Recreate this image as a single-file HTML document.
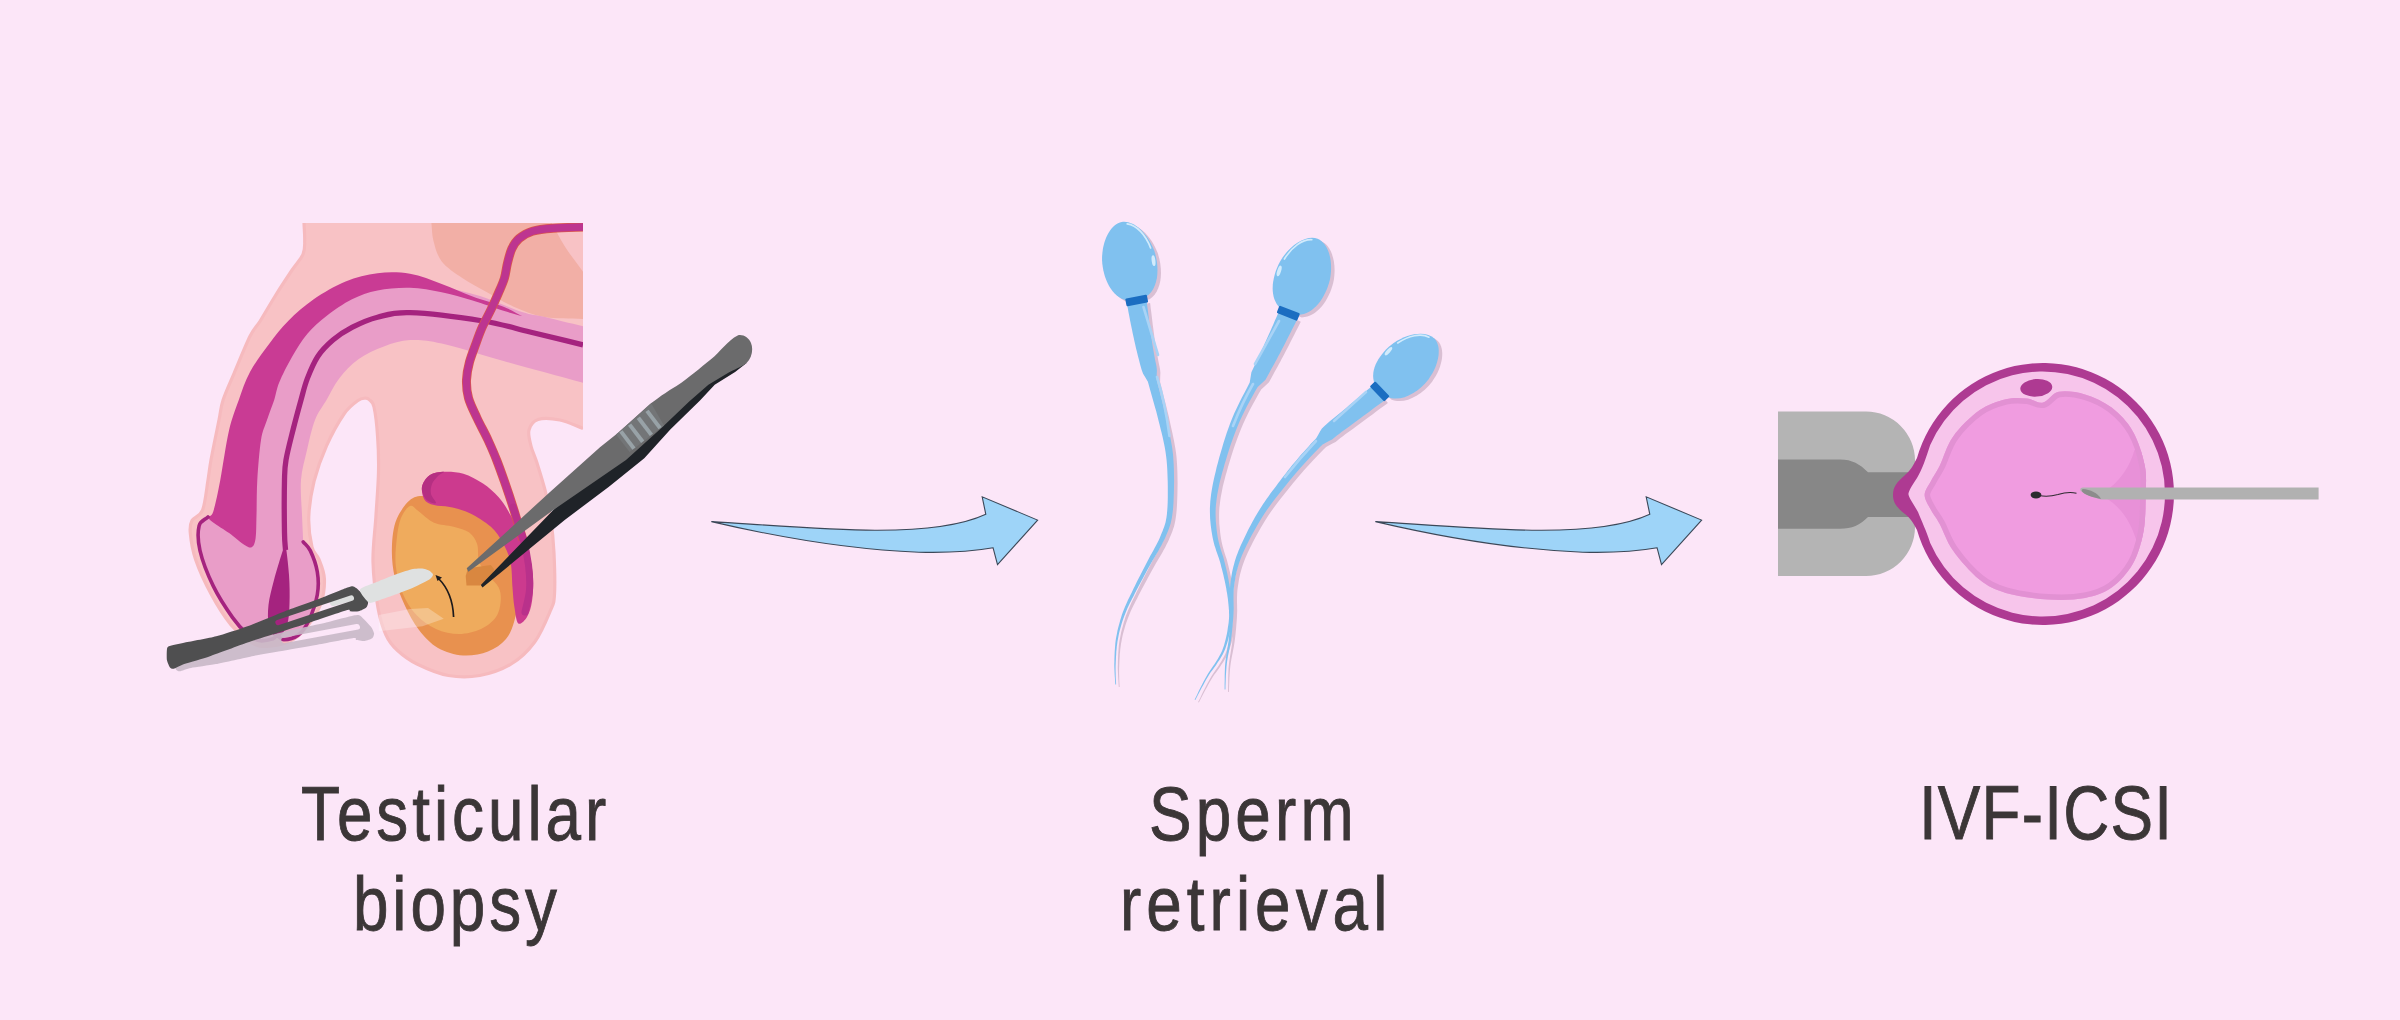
<!DOCTYPE html>
<html><head><meta charset="utf-8">
<style>
html,body{margin:0;padding:0;width:2400px;height:1020px;overflow:hidden;background:#fce6f8;}
svg{display:block;}
text{font-family:"Liberation Sans",sans-serif;fill:#3b3637;}
</style></head>
<body>
<svg width="2400" height="1020" viewBox="0 0 2400 1020">
<rect width="2400" height="1020" fill="#fce6f8"/>

<!-- LEFT ILLUSTRATION -->
<g id="left">
<path d="M304,223 L583,223 L583,428.4 C575.3,425.6 567.5,421.5 560,420 C552.5,418.5 543.2,417.8 538,419.5 C532.8,421.2 530.2,425.6 529,430 C527.8,434.4 529.7,440.5 531,446 C532.3,451.5 534.7,455.7 537,463 C539.3,470.3 542.7,480.9 545,490 C547.3,499.1 549.1,507.1 550.6,517.6 C552.1,528.1 553.4,540.2 554,553 C554.6,565.8 555.1,584.9 554.5,594.5 C553.9,604.1 553.7,602.7 550.4,610.6 C547.1,618.5 541.2,633.1 534.7,642 C528.2,650.9 520.4,658.4 511.2,664 C502,669.6 490.3,673.6 479.8,675.5 C469.3,677.4 458.9,677.4 448.4,675.5 C437.9,673.6 425.6,668.2 417,664 C408.4,659.8 402.2,654.8 397,650 C391.8,645.2 389.2,642 386,635 C382.8,628 380.2,620.2 378,608 C375.8,595.8 373.4,577.2 373,562 C372.6,546.8 375,531.5 375.9,516.5 C376.8,501.6 378.2,485.6 378.5,472.3 C378.8,459.1 378.4,447.9 377.6,437 C376.9,426.1 375.4,413.2 374,407 C372.6,400.8 370.4,401 369,399.5 C367.6,398 367.1,398 365.3,398.2 C363.5,398.4 361.6,397.9 358,400.5 C354.4,403.1 349.2,406.4 344,414 C338.8,421.6 331.5,434.7 326.5,445.9 C321.5,457.1 317.1,469.4 314.1,481.2 C311.2,493 309.2,505.5 308.8,516.5 C308.4,527.5 310.3,539.9 312,547 C313.7,554.1 316.9,554.1 319,559.4 C321.1,564.7 324.1,571.4 324.4,578.8 C324.7,586.1 323.5,595.9 320.9,603.5 C318.2,611.1 312.9,618.8 308.5,624.7 C304.1,630.6 299.4,635.4 294.4,638.8 C289.4,642.2 284.4,643.8 278.5,645 C272.6,646.2 264.3,646.9 259,645.9 C253.7,644.9 251.5,642.3 246.8,638.8 C242.1,635.3 236.8,632.1 230.9,624.7 C225,617.4 217.4,605.6 211.5,594.7 C205.6,583.8 199.1,569.7 195.6,559.4 C192.1,549.1 190.9,539.5 190.3,533 C189.7,526.5 189.9,524.4 192,520.6 C194.1,516.8 199.9,516.8 202.6,510 C205.3,503.2 206.6,488.3 208,480 C209.4,471.7 209.2,470 211,460 C212.8,450 217,430 219,420 C221,410 220.6,407.8 223.1,400 C225.6,392.2 229.6,383.9 234.1,373.3 C238.6,362.7 245.7,345 250,336.3 C254.3,327.6 255.9,327.8 260.2,321 C264.4,314.2 270.2,304 275.5,295.5 C280.8,287 287.5,276.9 292.1,270 C296.7,263.1 301,259.1 303.1,254.1 C305.2,249.1 304.6,245.2 304.7,240 C304.8,234.8 304.2,228.7 304,223 Z" fill="#f8c2c5"/>
<path d="M583,428.4 C575.3,425.6 567.5,421.5 560,420 C552.5,418.5 543.2,417.8 538,419.5 C532.8,421.2 530.2,425.6 529,430 C527.8,434.4 529.7,440.5 531,446 C532.3,451.5 534.7,455.7 537,463 C539.3,470.3 542.7,480.9 545,490 C547.3,499.1 549.1,507.1 550.6,517.6 C552.1,528.1 553.4,540.2 554,553 C554.6,565.8 555.1,584.9 554.5,594.5 C553.9,604.1 553.7,602.7 550.4,610.6 C547.1,618.5 541.2,633.1 534.7,642 C528.2,650.9 520.4,658.4 511.2,664 C502,669.6 490.3,673.6 479.8,675.5 C469.3,677.4 458.9,677.4 448.4,675.5 C437.9,673.6 425.6,668.2 417,664 C408.4,659.8 402.2,654.8 397,650 C391.8,645.2 389.2,642 386,635 C382.8,628 380.2,620.2 378,608 C375.8,595.8 373.4,577.2 373,562 C372.6,546.8 375,531.5 375.9,516.5 C376.8,501.6 378.2,485.6 378.5,472.3 C378.8,459.1 378.4,447.9 377.6,437 C376.9,426.1 375.4,413.2 374,407 C372.6,400.8 370.4,401 369,399.5 C367.6,398 367.1,398 365.3,398.2 C363.5,398.4 361.6,397.9 358,400.5 C354.4,403.1 349.2,406.4 344,414 C338.8,421.6 331.5,434.7 326.5,445.9 C321.5,457.1 317.1,469.4 314.1,481.2 C311.2,493 309.2,505.5 308.8,516.5 C308.4,527.5 310.3,539.9 312,547 C313.7,554.1 316.9,554.1 319,559.4 C321.1,564.7 324.1,571.4 324.4,578.8 C324.7,586.1 323.5,595.9 320.9,603.5 C318.2,611.1 312.9,618.8 308.5,624.7 C304.1,630.6 299.4,635.4 294.4,638.8 C289.4,642.2 284.4,643.8 278.5,645 C272.6,646.2 264.3,646.9 259,645.9 C253.7,644.9 251.5,642.3 246.8,638.8 C242.1,635.3 236.8,632.1 230.9,624.7 C225,617.4 217.4,605.6 211.5,594.7 C205.6,583.8 199.1,569.7 195.6,559.4 C192.1,549.1 190.9,539.5 190.3,533 C189.7,526.5 189.9,524.4 192,520.6 C194.1,516.8 199.9,516.8 202.6,510 C205.3,503.2 206.6,488.3 208,480 C209.4,471.7 209.2,470 211,460 C212.8,450 217,430 219,420 C221,410 220.6,407.8 223.1,400 C225.6,392.2 229.6,383.9 234.1,373.3 C238.6,362.7 245.7,345 250,336.3 C254.3,327.6 255.9,327.8 260.2,321 C264.4,314.2 270.2,304 275.5,295.5 C280.8,287 287.5,276.9 292.1,270 C296.7,263.1 301,259.1 303.1,254.1 C305.2,249.1 304.6,245.2 304.7,240 C304.8,234.8 304.2,228.7 304,223" fill="none" stroke="#f6babe" stroke-width="3.2"/>
<path d="M431.4,223 L583,223 L583,319 C570.2,318.3 556.1,319.1 544.6,317 C533.1,314.9 523.3,310.8 513.7,306.7 C504.1,302.6 495.6,297.1 487,292.3 C478.4,287.5 469.9,283 462.3,277.9 C454.8,272.8 446.5,267.6 441.7,261.4 C436.9,255.2 435.2,247.3 433.5,240.9 C431.8,234.5 432.1,229 431.4,223 Z" fill="#f2afa6"/>
<path d="M551.8,223 L583,223 L583,271.7 C577.1,263.5 570.4,255.1 565.2,247 C560,238.9 556.3,231 551.8,223 Z" fill="#f8c2c5"/>
<path d="M583,326.3 C570.3,323.2 555.2,319.4 545,317 C534.8,314.6 532.8,315.5 522,312 C511.2,308.5 493.4,300.2 480,296 C466.6,291.8 453.4,289.5 441.7,287 C430,284.5 420.7,281.8 410,281 C399.3,280.2 388.2,280.5 377.5,282 C366.8,283.5 356.2,285.7 345.6,290 C335,294.3 323.3,301.3 313.7,308 C304.1,314.7 295.6,322.7 288.2,330 C280.8,337.3 274.6,342.8 269.1,352 C263.6,361.2 259.9,372 255,385 C250.2,398 243.8,414.2 240,430 C236.2,445.8 235,466.7 232,480 C229,493.3 226,503.8 222,510 C218,516.2 212.7,514.7 208,517 C205,520 200.4,520.3 199.1,525.9 C197.8,531.5 197.7,540.6 200,550.6 C202.3,560.6 207.8,574.7 213.2,585.9 C218.6,597.1 227,609.7 232.6,617.6 C238.2,625.5 242.4,629.7 246.8,633.5 C251.2,637.3 254.7,639.7 259.1,640.6 C263.5,641.5 270.2,639.7 273.2,638.8 C276.1,637.9 275,635.1 276.8,635.3 C278.6,635.4 280.3,639.7 283.8,639.7 C287.3,639.7 293.9,638.4 298,635.3 C302.1,632.2 305.3,628 308.5,621.2 C311.7,614.4 315.8,602.9 317.3,594.7 C318.8,586.5 318.5,579.1 317.3,571.8 C316.1,564.4 312.7,555.6 310.3,550.6 C307.9,545.6 305.6,544.7 303.2,541.8 C302.8,532.9 302.4,525.3 302,515 C301.6,504.7 300.2,490.8 301,480 C301.8,469.2 304.7,460 307,450 C309.3,440 311.8,428.3 315,420 C318.2,411.7 322.5,406.9 326.5,400 C330.5,393.1 333.9,385.2 339.2,378.4 C344.5,371.6 350.9,364.5 358.4,359.2 C365.8,353.9 375.3,349.7 383.9,346.5 C392.5,343.3 400.4,340.6 410,340.1 C419.6,339.6 426.1,340 441.7,343.5 C457.3,347 479.9,354.4 503.5,361 C527,367.6 556.5,375.5 583,382.8 L583,326.3 Z" fill="#e99dc8"/>
<path d="M522,316 C515.8,312.9 511.7,310 503.5,306.7 C495.3,303.4 482.9,300.2 472.6,296.4 C462.3,292.6 452.1,287.8 441.7,284 C431.3,280.2 420.7,275.6 410,273.8 C399.3,272 388.2,271.9 377.5,273.2 C366.8,274.5 356.2,277.1 345.6,281.5 C335,285.9 323.3,292.7 313.7,299.3 C304.1,305.9 295.6,313.6 288.2,321 C280.8,328.4 275.5,335.4 269.1,343.9 C262.7,352.4 255.1,362.6 250,372 C244.9,381.4 242.3,390.2 238.8,400 C235.3,409.8 232.1,417.3 229,430.6 C225.9,443.9 222.9,466.5 220.3,480 C217.7,493.5 215.2,505.6 213.2,511.8 C211.1,518 208,515.2 208,517 C208,518.8 209.7,519.7 213.2,522.4 C216.7,525.1 223.8,529.2 229.1,533 C234.4,536.8 241.2,543 245,545.3 C248.8,547.6 250.2,548.2 252,547 C253.8,545.8 254.8,543.5 255.6,538.2 C256.4,532.9 256.2,525 256.5,515.3 C256.8,505.6 256.6,492.6 257.3,480 C258.1,467.4 259.4,450 261,440 C262.6,430 264.8,426.7 267,420 C269.2,413.3 272.1,406.3 274.2,400 C276.2,393.7 276.3,389.4 279.3,382.2 C282.3,375 287.4,364.8 292.1,356.7 C296.8,348.6 301.7,340.5 307.4,333.7 C313.1,326.9 319.1,321.6 326.5,315.9 C333.9,310.2 343.5,303.6 352,299.3 C360.5,295.1 367.8,292.3 377.5,290.4 C387.2,288.5 399.3,287.5 410,287.8 C420.7,288.1 431.3,290.2 441.7,292.3 C452.1,294.4 462.3,297.4 472.6,300.5 C482.9,303.6 495.3,308.2 503.5,310.8 C511.7,313.4 515.8,314.3 522,316 Z" fill="#c93b94"/>
<path d="M583,344.8 C565.3,340.5 546.7,336 530,332 C513.3,328 502.9,324.2 482.9,321 C462.9,317.8 427.6,313.3 410,312.7 C392.4,312.1 387.2,314.8 377.5,317.2 C367.8,319.6 359.4,323.6 352,327.4 C344.6,331.2 338.6,335.2 332.9,340.1 C327.2,345 321.9,350.3 317.6,356.7 C313.4,363.1 310.2,371.2 307.4,378.4 C304.6,385.6 303.4,391.4 301,400 C298.6,408.6 295.5,420 293,430 C290.5,440 287.4,451.7 286,460 C284.6,468.3 284.8,467.8 284.5,480 C284.2,492.2 284.3,521.3 284.5,533 C284.7,544.7 285.2,544.3 285.5,550" fill="none" stroke="#a5237f" stroke-width="5.3"/>
<path d="M285.5,545 C286.5,549.2 288.3,565.2 289,575 C289.7,584.8 289.8,595.2 289.5,603.5 C289.2,611.8 289.1,619.2 287,625 C284.9,630.8 280,638 277,638 C274,638 270.4,630.5 269,625 C267.6,619.5 267.7,612.5 268.5,605 C269.3,597.5 271.6,589.2 274,580 C276.4,570.8 281.1,555.8 283,550 C284.9,544.2 284.5,540.8 285.5,545 Z" fill="#a5237f"/>
<path d="M208,517 C205,520 200.4,520.3 199.1,525.9 C197.8,531.5 197.7,540.6 200,550.6 C202.3,560.6 207.8,574.7 213.2,585.9 C218.6,597.1 227,609.7 232.6,617.6 C238.2,625.5 242.4,629.7 246.8,633.5 C251.2,637.3 254.7,639.7 259.1,640.6 C263.5,641.5 270.2,639.7 273.2,638.8 C276.1,637.9 275,635.1 276.8,635.3 C278.6,635.4 280.3,639.7 283.8,639.7 C287.3,639.7 293.9,638.4 298,635.3 C302.1,632.2 305.3,628 308.5,621.2 C311.7,614.4 315.8,602.9 317.3,594.7 C318.8,586.5 318.5,579.1 317.3,571.8 C316.1,564.4 312.7,555.6 310.3,550.6 C307.9,545.6 305.6,544.7 303.2,541.8" fill="none" stroke="#a5237f" stroke-width="3.6" stroke-linecap="round"/>
<path d="M414.4,497.3 C421.6,494 431.7,497.2 439.9,499.2 C448.1,501.1 455.5,505.7 463.4,509 C471.2,512.3 479.8,513.9 487,518.8 C494.2,523.7 501.7,529.9 506.6,538.4 C511.5,546.9 514.5,560 516.4,569.8 C518.3,579.6 518.6,588.8 518.3,597.3 C518,605.8 516.4,613.8 514.4,620.8 C512.4,627.8 510.4,633.9 506,639 C501.6,644.1 495.2,648.8 488,651.5 C480.8,654.2 471.3,656.1 463,655.5 C454.7,654.9 445.3,652.2 438,648 C430.7,643.8 424.6,637.1 419,630 C413.4,622.9 408.6,613.8 404.6,605.1 C400.6,596.4 396.9,587.1 394.8,577.6 C392.7,568.1 391.6,558 391.9,548.2 C392.2,538.4 393.1,527.3 396.8,518.8 C400.6,510.3 407.2,500.6 414.4,497.3 Z" fill="#e8914f"/>
<path d="M410,506 C412.9,504.8 414.3,508.2 418.3,511 C422.3,513.8 428.1,520.1 434,522.7 C439.9,525.3 447.7,525.1 453.6,526.7 C459.5,528.3 465.4,529.6 469.3,532.5 C473.2,535.4 475.6,539.4 477.2,544.3 C478.8,549.2 477.2,556.8 479.1,562 C481.1,567.2 485.6,571.5 488.9,575.7 C492.2,580 496.7,583.2 498.7,587.5 C500.7,591.8 501.1,596.3 500.7,601.2 C500.2,606.1 499.3,612.4 496,617 C492.7,621.6 487.2,626.2 481,629 C474.8,631.8 466.5,634 459,634 C451.5,634 443.1,632.2 436,629 C428.9,625.8 422,621 416.4,615 C410.8,609 406,601.5 402.6,593.3 C399.2,585.1 396.8,575 395.8,565.9 C394.8,556.8 395.9,546.4 396.8,538.4 C397.7,530.4 398.8,523.4 401,518 C403.2,512.6 407.1,507.2 410,506 Z" fill="#efab5d"/>
<path d="M422.3,485.5 C423.3,481.5 426.4,477.3 430,475 C433.6,472.7 438.2,472 443.8,471.8 C449.4,471.6 456.9,471.8 463.4,473.7 C469.9,475.6 477.1,479.6 483,483.5 C488.9,487.4 494.1,492.1 498.7,497.3 C503.3,502.5 506.9,508.7 510.5,514.9 C514.1,521.1 517.2,528 520.3,534.5 C523.4,541 526.9,546.9 529,554.1 C531.1,561.3 532.5,569.8 533,577.6 C533.5,585.5 533,594.7 532,601.2 C531,607.8 529.3,613.2 527,616.9 C524.7,620.6 520.4,625.1 518.3,623.5 C516.2,621.9 515.4,613.1 514.4,607.1 C513.4,601.1 513.1,595 512.5,587.5 C511.9,580 512.1,569.5 510.5,562 C508.9,554.5 505.9,548.3 502.6,542.4 C499.3,536.5 496.4,531.6 490.9,526.7 C485.3,521.8 476.2,516.2 469.3,512.9 C462.4,509.6 455.6,508.4 449.7,507.1 C443.8,505.8 438.2,506.4 434,505.1 C429.8,503.8 426.1,502.5 424.2,499.2 C422.2,495.9 421.3,489.5 422.3,485.5 Z" fill="#cc3a8e"/>
<path d="M590,226.8 C577.7,227.3 562.6,227.5 553,228.2 C543.4,228.9 538,229.5 532.4,231.2 C526.8,232.9 522.5,235.6 519.1,238.5 C515.7,241.4 513.8,244.6 511.8,248.8 C509.9,253 508.6,258.6 507.4,263.5 C506.2,268.4 505.9,273.3 504.4,278.2 C502.9,283.1 500.7,287.8 498.5,292.9 C496.3,298 493.9,303.5 491.2,309.1 C488.5,314.8 484.8,321.3 482.4,326.8 C479.9,332.3 478.6,336.1 476.5,342 C474.4,347.9 471.2,355.7 469.5,362 C467.8,368.3 466.7,374 466.5,380 C466.3,386 466.8,391.7 468.5,398 C470.2,404.3 473.8,411 477,418 C480.2,425 484.7,432.8 488,440 C491.3,447.2 494.2,453.8 497,461 C499.8,468.2 502.3,475.3 505,483 C507.7,490.7 510.7,499.7 513,507 C515.3,514.3 517.3,521.5 519,527 C520.7,532.5 521.7,535.7 523,540" fill="none" stroke="#d9544f" stroke-width="9"/>
<path d="M590,226.8 C577.7,227.3 562.6,227.5 553,228.2 C543.4,228.9 538,229.5 532.4,231.2 C526.8,232.9 522.5,235.6 519.1,238.5 C515.7,241.4 513.8,244.6 511.8,248.8 C509.9,253 508.6,258.6 507.4,263.5 C506.2,268.4 505.9,273.3 504.4,278.2 C502.9,283.1 500.7,287.8 498.5,292.9 C496.3,298 493.9,303.5 491.2,309.1 C488.5,314.8 484.8,321.3 482.4,326.8 C479.9,332.3 478.6,336.1 476.5,342 C474.4,347.9 471.2,355.7 469.5,362 C467.8,368.3 466.7,374 466.5,380 C466.3,386 466.8,391.7 468.5,398 C470.2,404.3 473.8,411 477,418 C480.2,425 484.7,432.8 488,440 C491.3,447.2 494.2,453.8 497,461 C499.8,468.2 502.3,475.3 505,483 C507.7,490.7 510.7,499.7 513,507 C515.3,514.3 517.3,521.5 519,527 C520.7,532.5 521.7,535.7 523,540" fill="none" stroke="#bd3590" stroke-width="7.4"/>
<path d="M513,507 C516.3,517.3 520.4,528.3 523,538 C525.6,547.7 527.4,556.3 528.5,565 C529.6,573.7 530.1,582.2 529.5,590 C528.9,597.8 526.5,604.7 525,612" fill="none" stroke="#b9318b" stroke-width="7" stroke-linecap="round"/>
<path d="M422.3,485.5 C423.5,482.3 426.4,477.3 430,475 C433.6,472.7 442.5,471.6 443.8,471.8 C445.1,472 440,474 438,476 C436,478 433.2,481 432,484 C430.8,487 430.3,490.8 431,494 C431.7,497.2 436.5,501.8 436,503 C435.5,504.2 430.2,502.5 428,501 C425.8,499.5 423.9,496.6 423,494 C422.1,491.4 421.1,488.7 422.3,485.5 Z" fill="#b52f82"/>
<path d="M465.7,576 L468,568.2 L490.8,565 L494,569 L492.4,577.6 L479.8,585.5 L466.5,585.5 Z" fill="#d98740"/>
<path d="M453.6,617 C453,601 447,587 438.5,578.5" fill="none" stroke="#1d1a1c" stroke-width="1.7"/>
<path d="M435.5,575 L442,577.5 L437.5,581 Z" fill="#1d1a1c"/>
<defs><mask id="slotmask" maskUnits="userSpaceOnUse" x="0" y="0" width="800" height="800"><rect x="0" y="0" width="800" height="800" fill="#fff"/><path d="M278.1,622.5 L351.25,598.1" stroke="#000" stroke-width="5.5" stroke-linecap="round"/></mask></defs>
<g transform="matrix(1,0.147,0,1,6,-23)" opacity="0.9"><path d="M168.8,646.2 C170.6,645.5 180.2,643.5 185,642.5 C189.8,641.5 210,637.9 216.2,636.2 C222.5,634.6 240.6,628.8 247.5,626.2 C254.4,623.8 277.5,614.1 285,611.2 C292.5,608.4 316.2,599.9 322.5,597.5 C328.8,595.1 344.5,588.6 347.5,587.5 C350.5,586.4 351.6,586.2 352.5,586.2 C353.4,586.3 355,587.1 356.2,588.1 C357.5,589.1 363.8,594.8 365,596.2 C366.2,597.7 368,601.4 368.1,602.5 C368.2,603.6 367.2,606.6 366.2,607.5 C365.3,608.4 360.4,610.9 358.8,611.2 C357.1,611.6 351.1,611.4 350,611.2 C348.9,611.1 351.5,608.9 347.5,610 C343.5,611.1 316.9,620.2 310,622.5 C303.1,624.8 285,630.5 278.8,632.5 C272.5,634.5 254.4,640.1 247.5,642.5 C240.6,644.9 216.2,654.1 210,656.2 C203.8,658.4 188.6,662.5 185,663.8 C181.4,665 175.2,668.4 173.8,668.8 C172.2,669.1 170.7,668.4 170,667.5 C169.3,666.6 167.2,661.8 166.9,660 C166.6,658.2 166.7,651.4 166.9,650 C167.1,648.6 166.9,647 168.8,646.2 Z" fill="#c9b9c8" mask="url(#slotmask)"/></g>
<path d="M378.75,615 L410,609 L428,608 L443.75,618.75 L422.5,626.25 L378.75,631.25 Z" fill="#ffffff" opacity="0.28"/>
<path d="M333,603 L353,597.5" stroke="#dcdede" stroke-width="6" stroke-linecap="round"/>
<path d="M168.8,646.2 C170.6,645.5 180.2,643.5 185,642.5 C189.8,641.5 210,637.9 216.2,636.2 C222.5,634.6 240.6,628.8 247.5,626.2 C254.4,623.8 277.5,614.1 285,611.2 C292.5,608.4 316.2,599.9 322.5,597.5 C328.8,595.1 344.5,588.6 347.5,587.5 C350.5,586.4 351.6,586.2 352.5,586.2 C353.4,586.3 355,587.1 356.2,588.1 C357.5,589.1 363.8,594.8 365,596.2 C366.2,597.7 368,601.4 368.1,602.5 C368.2,603.6 367.2,606.6 366.2,607.5 C365.3,608.4 360.4,610.9 358.8,611.2 C357.1,611.6 351.1,611.4 350,611.2 C348.9,611.1 351.5,608.9 347.5,610 C343.5,611.1 316.9,620.2 310,622.5 C303.1,624.8 285,630.5 278.8,632.5 C272.5,634.5 254.4,640.1 247.5,642.5 C240.6,644.9 216.2,654.1 210,656.2 C203.8,658.4 188.6,662.5 185,663.8 C181.4,665 175.2,668.4 173.8,668.8 C172.2,669.1 170.7,668.4 170,667.5 C169.3,666.6 167.2,661.8 166.9,660 C166.6,658.2 166.7,651.4 166.9,650 C167.1,648.6 166.9,647 168.8,646.2 Z" fill="#4f4f50" mask="url(#slotmask)"/>
<path d="M360,589.4 C361.3,587.1 374.4,583.1 378.8,581.2 C383.1,579.4 393.5,575.2 397.5,573.8 C401.5,572.3 410.1,569.6 413,569 C415.9,568.4 420.1,568.3 422,568.5 C423.9,568.7 427.7,569.8 429,570.5 C430.3,571.2 432.9,573.5 433,574.5 C433.1,575.5 432,577.6 430,579 C428,580.4 420,584.5 416.2,586.2 C412.5,588 402.6,591.9 397.5,593.8 C392.4,595.6 376,601.6 372.5,602.5 C369,603.4 369,602.8 367.5,601.2 C366,599.7 358.7,591.7 360,589.4 Z" fill="#dfe1e1"/>
<path d="M480.8,585 L553.3,510 L640,430 L735,366 L746.6,363.1 L735.1,372 L714.7,384.8 L700,400.6 L670.3,429.4 L644.3,458.2 L608.6,487 L564.7,520 L482.5,587.5 Z" fill="#1f2328"/>
<path d="M466.7,568.3 L550,492 L600,447.3 L619.1,432 L647.2,406.5 C655,400 668,391 676.5,386.1 C690,377 700,368 711,359.3 C720,352 728,340 737.7,335.4 C743,334 749,338 751,343 C753.5,349 752,358 746.6,363.1 C740,368 735,369 727.5,373.3 L708.4,384.8 L689.2,401.4 L661.2,428.2 L626,460 L553.3,510 L468.3,571.7 Z" fill="#6b6b6c"/>
<path d="M616,434.5 L651.3,403.5 L664,425.5 L629.6,452 Z" fill="#737577"/>
<path d="M620.9,431.4 L634.0,448.6" stroke="#98a2a7" stroke-width="4"/>
<path d="M629.6,424.6 L642.7,441.8" stroke="#98a2a7" stroke-width="4"/>
<path d="M638.3,417.7 L651.4,434.9" stroke="#98a2a7" stroke-width="4"/>
<path d="M647.0,410.9 L660.1,428.1" stroke="#98a2a7" stroke-width="4"/>
<rect x="583" y="215" width="20" height="213" fill="#fce6f8"/>
<rect x="300" y="200" width="300" height="23" fill="#fce6f8"/>
</g>

<!-- ARROWS -->
<g id="arrows" fill="#9ed4f8" stroke="#3c4858" stroke-width="1.1" stroke-linejoin="miter">
<path id="arr" d="M711.5,521.6 C780,526 830,530 875,530.3 C930,530.5 965,524 985.8,514.3 L982.2,496.8 L1037.6,520.1 L997.5,564.6 L993.1,547.8 C975,551 950,553 918.8,552.2 C860,550 790,540 711.5,521.6 Z"/>
<use href="#arr" x="664" y="0"/>
</g>

<!-- SPERM -->
<g id="sperm">
<path d="M1130.3,306.1 L1130.8,308.4 L1131.4,311.3 L1132.0,314.8 L1132.8,318.8 L1133.6,323.0 L1134.5,327.4 L1135.4,331.8 L1136.3,336.2 L1137.2,340.3 L1138.0,344.1 L1138.8,347.5 L1139.5,350.7 L1140.3,353.7 L1141.0,356.7 L1141.7,359.6 L1142.5,362.6 L1143.3,365.7 L1144.2,369.0 L1145.2,372.5 L1146.6,376.2 L1148.9,380.1 L1151.4,384.3 L1152.7,389.0 L1154.1,393.9 L1155.5,398.9 L1156.9,403.9 L1158.3,408.9 L1159.7,413.8 L1160.9,418.5 L1162.0,423.0 L1163.1,427.3 L1164.1,431.4 L1165.1,435.3 L1166.0,439.1 L1166.8,442.8 L1167.6,446.6 L1168.4,450.4 L1169.0,454.3 L1169.6,458.4 L1170.1,462.8 L1170.5,467.5 L1170.8,472.6 L1171.0,477.9 L1171.2,483.4 L1171.3,488.9 L1171.3,494.4 L1171.3,499.7 L1171.2,504.6 L1171.0,509.2 L1170.7,513.2 L1170.4,516.7 L1170.0,519.8 L1169.5,522.5 L1169.0,524.9 L1168.4,527.1 L1167.7,529.2 L1166.9,531.2 L1166.1,533.4 L1165.2,535.6 L1164.2,538.1 L1163.2,540.6 L1162.1,543.1 L1160.8,545.6 L1159.5,548.1 L1158.1,550.6 L1156.7,553.2 L1155.3,555.8 L1153.8,558.3 L1152.4,560.9 L1151.1,563.5 L1149.8,566.1 L1148.4,568.7 L1147.1,571.2 L1145.8,573.8 L1144.4,576.4 L1143.1,578.9 L1141.8,581.5 L1140.5,584.1 L1139.2,586.7 L1138.0,589.2 L1136.7,591.8 L1135.5,594.4 L1134.2,596.9 L1133.0,599.5 L1131.7,602.1 L1130.5,604.7 L1129.4,607.3 L1128.3,609.8 L1127.2,612.4 L1126.2,615.0 L1125.3,617.6 L1124.5,620.2 L1123.7,622.8 L1123.0,625.4 L1122.3,627.9 L1121.6,630.5 L1121.0,633.1 L1120.5,635.7 L1120.0,638.3 L1119.5,640.8 L1119.1,643.4 L1118.8,646.1 L1118.6,648.7 L1118.4,651.4 L1118.2,654.0 L1118.1,656.6 L1118.0,659.2 L1117.9,661.7 L1117.9,664.1 L1117.8,666.5 L1117.8,668.8 L1117.9,671.2 L1118.0,673.7 L1118.1,676.0 L1118.2,678.3 L1118.4,680.5 L1118.5,682.5 L1118.6,684.2 L1118.7,685.7 L1118.8,686.9 L1119.6,686.9 L1119.6,685.7 L1119.5,684.2 L1119.4,682.4 L1119.3,680.4 L1119.2,678.3 L1119.2,676.0 L1119.1,673.6 L1119.1,671.2 L1119.1,668.8 L1119.2,666.5 L1119.3,664.2 L1119.4,661.8 L1119.5,659.3 L1119.7,656.7 L1119.8,654.1 L1120.1,651.5 L1120.3,648.9 L1120.7,646.3 L1121.0,643.7 L1121.5,641.2 L1122.0,638.6 L1122.5,636.1 L1123.1,633.6 L1123.8,631.1 L1124.5,628.6 L1125.2,626.0 L1126.0,623.5 L1126.9,621.0 L1127.8,618.5 L1128.8,616.0 L1129.8,613.5 L1130.8,611.0 L1132.0,608.4 L1133.2,605.9 L1134.5,603.4 L1135.7,600.9 L1137.1,598.4 L1138.4,595.8 L1139.7,593.3 L1141.0,590.8 L1142.3,588.2 L1143.7,585.7 L1145.0,583.2 L1146.4,580.7 L1147.8,578.1 L1149.2,575.6 L1150.5,573.1 L1151.9,570.5 L1153.3,568.0 L1154.7,565.5 L1156.1,563.0 L1157.6,560.5 L1159.1,557.9 L1160.6,555.4 L1162.1,552.9 L1163.5,550.3 L1165.0,547.7 L1166.3,545.1 L1167.6,542.5 L1168.8,539.9 L1169.8,537.5 L1170.8,535.3 L1171.7,533.1 L1172.5,530.9 L1173.3,528.6 L1174.1,526.2 L1174.7,523.6 L1175.3,520.7 L1175.8,517.4 L1176.3,513.8 L1176.7,509.6 L1177.0,504.9 L1177.2,499.8 L1177.4,494.5 L1177.5,488.9 L1177.6,483.3 L1177.5,477.7 L1177.4,472.3 L1177.2,467.1 L1176.9,462.2 L1176.6,457.7 L1176.1,453.4 L1175.5,449.2 L1174.8,445.2 L1174.1,441.3 L1173.3,437.5 L1172.5,433.6 L1171.6,429.6 L1170.7,425.5 L1169.8,421.2 L1168.8,416.6 L1167.6,411.8 L1166.4,406.8 L1165.1,401.7 L1163.8,396.7 L1162.5,391.6 L1161.3,386.7 L1160.1,382.0 L1160.2,377.2 L1160.4,372.8 L1160.0,368.9 L1159.3,365.4 L1158.6,362.2 L1158.0,359.1 L1157.5,356.2 L1157.0,353.3 L1156.5,350.4 L1156.0,347.4 L1155.5,344.3 L1155.0,340.9 L1154.4,337.2 L1153.9,333.2 L1153.3,328.8 L1152.7,324.4 L1152.2,320.0 L1151.7,315.8 L1151.2,311.8 L1150.7,308.2 L1150.4,305.2 L1150.1,302.9 Z" fill="#d9bfd3"/>
<path d="M0,-80 C11,-80 23,-66 26.5,-46 C29,-28 24,-8 10,-2 L-10,-2 C-24,-8 -29,-28 -26.5,-46 C-23,-66 -11,-80 0,-80 Z" fill="#d9bfd3" transform="translate(1140.2,303.0) rotate(-10.8) scale(1.0)"/>
<path d="M1126.8,303.6 L1127.3,305.9 L1127.9,308.8 L1128.5,312.3 L1129.3,316.3 L1130.1,320.5 L1131.0,324.9 L1131.9,329.3 L1132.8,333.7 L1133.7,337.8 L1134.5,341.6 L1135.3,345.0 L1136.0,348.2 L1136.8,351.2 L1137.5,354.2 L1138.2,357.1 L1139.0,360.1 L1139.8,363.2 L1140.7,366.5 L1141.7,370.0 L1143.1,373.7 L1145.4,377.6 L1147.9,381.8 L1149.2,386.5 L1150.6,391.4 L1152.0,396.4 L1153.4,401.4 L1154.8,406.4 L1156.2,411.3 L1157.4,416.0 L1158.5,420.5 L1159.6,424.8 L1160.6,428.9 L1161.6,432.8 L1162.5,436.6 L1163.3,440.3 L1164.1,444.1 L1164.9,447.9 L1165.5,451.8 L1166.1,455.9 L1166.6,460.3 L1167.0,465.0 L1167.3,470.1 L1167.5,475.4 L1167.7,480.9 L1167.8,486.4 L1167.8,491.9 L1167.8,497.2 L1167.7,502.1 L1167.5,506.7 L1167.2,510.7 L1166.9,514.2 L1166.5,517.3 L1166.0,520.0 L1165.5,522.4 L1164.9,524.6 L1164.2,526.7 L1163.4,528.7 L1162.6,530.9 L1161.7,533.1 L1160.7,535.6 L1159.7,538.1 L1158.6,540.6 L1157.3,543.1 L1156.0,545.6 L1154.6,548.1 L1153.2,550.7 L1151.8,553.3 L1150.3,555.8 L1148.9,558.4 L1147.6,561.0 L1146.3,563.6 L1144.9,566.2 L1143.6,568.7 L1142.3,571.3 L1140.9,573.9 L1139.6,576.4 L1138.3,579.0 L1137.0,581.6 L1135.7,584.2 L1134.5,586.7 L1133.2,589.3 L1132.0,591.9 L1130.7,594.4 L1129.5,597.0 L1128.2,599.6 L1127.0,602.2 L1125.9,604.8 L1124.8,607.3 L1123.7,609.9 L1122.7,612.5 L1121.8,615.1 L1121.0,617.7 L1120.2,620.3 L1119.5,622.9 L1118.8,625.4 L1118.1,628.0 L1117.5,630.6 L1117.0,633.2 L1116.5,635.8 L1116.0,638.3 L1115.6,640.9 L1115.3,643.6 L1115.1,646.2 L1114.9,648.9 L1114.7,651.5 L1114.6,654.1 L1114.5,656.7 L1114.4,659.2 L1114.4,661.6 L1114.3,664.0 L1114.3,666.3 L1114.4,668.7 L1114.5,671.2 L1114.6,673.5 L1114.7,675.8 L1114.9,678.0 L1115.0,680.0 L1115.1,681.7 L1115.2,683.2 L1115.3,684.4 L1116.1,684.4 L1116.1,683.2 L1116.0,681.7 L1115.9,679.9 L1115.8,677.9 L1115.7,675.8 L1115.7,673.5 L1115.6,671.1 L1115.6,668.7 L1115.6,666.3 L1115.7,664.0 L1115.8,661.7 L1115.9,659.3 L1116.0,656.8 L1116.2,654.2 L1116.3,651.6 L1116.6,649.0 L1116.8,646.4 L1117.2,643.8 L1117.5,641.2 L1118.0,638.7 L1118.5,636.1 L1119.0,633.6 L1119.6,631.1 L1120.3,628.6 L1121.0,626.1 L1121.7,623.5 L1122.5,621.0 L1123.4,618.5 L1124.3,616.0 L1125.3,613.5 L1126.3,611.0 L1127.3,608.5 L1128.5,605.9 L1129.7,603.4 L1131.0,600.9 L1132.2,598.4 L1133.6,595.9 L1134.9,593.3 L1136.2,590.8 L1137.5,588.3 L1138.8,585.7 L1140.2,583.2 L1141.5,580.7 L1142.9,578.2 L1144.3,575.6 L1145.7,573.1 L1147.0,570.6 L1148.4,568.0 L1149.8,565.5 L1151.2,563.0 L1152.6,560.5 L1154.1,558.0 L1155.6,555.4 L1157.1,552.9 L1158.6,550.4 L1160.0,547.8 L1161.5,545.2 L1162.8,542.6 L1164.1,540.0 L1165.3,537.4 L1166.3,535.0 L1167.3,532.8 L1168.2,530.6 L1169.0,528.4 L1169.8,526.1 L1170.6,523.7 L1171.2,521.1 L1171.8,518.2 L1172.3,514.9 L1172.8,511.3 L1173.2,507.1 L1173.5,502.4 L1173.7,497.3 L1173.9,492.0 L1174.0,486.4 L1174.1,480.8 L1174.0,475.2 L1173.9,469.8 L1173.7,464.6 L1173.4,459.7 L1173.1,455.2 L1172.6,450.9 L1172.0,446.7 L1171.3,442.7 L1170.6,438.8 L1169.8,435.0 L1169.0,431.1 L1168.1,427.1 L1167.2,423.0 L1166.3,418.7 L1165.3,414.1 L1164.1,409.3 L1162.9,404.3 L1161.6,399.2 L1160.3,394.2 L1159.0,389.1 L1157.8,384.2 L1156.6,379.5 L1156.7,374.7 L1156.9,370.3 L1156.5,366.4 L1155.8,362.9 L1155.1,359.7 L1154.5,356.6 L1154.0,353.7 L1153.5,350.8 L1153.0,347.9 L1152.5,344.9 L1152.0,341.8 L1151.5,338.4 L1150.9,334.7 L1150.4,330.7 L1149.8,326.3 L1149.2,321.9 L1148.7,317.5 L1148.2,313.3 L1147.7,309.3 L1147.2,305.7 L1146.9,302.7 L1146.6,300.4 Z" fill="#80c1ef"/>
<path d="M1143.5,307 L1158,355 M1157,377 Q1165,402 1169.5,436" fill="none" stroke="#a9d3f6" stroke-width="2.6" stroke-linecap="round"/>
<g transform="translate(1136.7,300.5) rotate(-10.8) scale(1.0)">
<path d="M0,-80 C11,-80 23,-66 26.5,-46 C29,-28 24,-8 10,-2 L-10,-2 C-24,-8 -29,-28 -26.5,-46 C-23,-66 -11,-80 0,-80 Z" fill="#80c1ef"/>
<path d="M5,-77 C14,-74 21,-63 23.5,-49" fill="none" stroke="#d2ebfc" stroke-width="1.7" stroke-linecap="round"/>
<ellipse cx="24" cy="-36" rx="1.9" ry="5.5" fill="#d2ebfc" transform="rotate(4 24 -36)"/>
<rect x="-11" y="-4" width="22" height="8" rx="1.2" fill="#1b6dc1"/>
</g>
<path d="M1282.8,313.2 L1282.0,315.0 L1280.9,317.4 L1279.7,320.2 L1278.3,323.3 L1276.9,326.7 L1275.3,330.2 L1273.8,333.8 L1272.2,337.2 L1270.7,340.5 L1269.4,343.6 L1268.1,346.3 L1267.0,348.9 L1265.9,351.3 L1264.8,353.7 L1263.7,356.0 L1262.5,358.5 L1261.3,361.2 L1259.9,364.1 L1258.4,367.2 L1256.8,370.8 L1254.9,374.7 L1254.1,379.7 L1253.2,385.1 L1250.7,389.9 L1248.1,394.9 L1245.4,400.0 L1242.8,405.2 L1240.3,410.4 L1237.9,415.5 L1235.8,420.5 L1233.8,425.5 L1232.0,430.5 L1230.2,435.6 L1228.5,440.7 L1226.9,445.8 L1225.4,450.9 L1224.0,455.8 L1222.6,460.6 L1221.4,465.2 L1220.2,469.6 L1219.2,473.9 L1218.2,477.9 L1217.3,481.9 L1216.5,485.7 L1215.8,489.5 L1215.2,493.1 L1214.6,496.7 L1214.2,500.3 L1213.8,503.8 L1213.6,507.3 L1213.4,510.8 L1213.4,514.2 L1213.5,517.6 L1213.6,520.9 L1213.9,524.2 L1214.2,527.4 L1214.6,530.5 L1215.0,533.5 L1215.5,536.5 L1216.0,539.4 L1216.6,542.3 L1217.3,545.2 L1218.0,547.9 L1218.9,550.6 L1219.7,553.2 L1220.6,555.7 L1221.4,558.1 L1222.3,560.5 L1223.0,562.8 L1223.7,565.1 L1224.3,567.3 L1224.8,569.4 L1225.4,571.5 L1225.9,573.5 L1226.4,575.5 L1226.9,577.4 L1227.3,579.4 L1227.7,581.3 L1228.2,583.3 L1228.6,585.3 L1229.0,587.3 L1229.4,589.3 L1229.8,591.3 L1230.1,593.4 L1230.5,595.4 L1230.8,597.4 L1231.1,599.4 L1231.4,601.4 L1231.6,603.4 L1231.8,605.4 L1232.0,607.4 L1232.2,609.4 L1232.3,611.3 L1232.5,613.2 L1232.5,615.1 L1232.6,617.0 L1232.6,619.0 L1232.5,621.0 L1232.3,623.2 L1232.1,625.5 L1231.7,628.0 L1231.3,630.6 L1230.9,633.4 L1230.4,636.2 L1229.8,639.1 L1229.1,642.1 L1228.3,645.0 L1227.5,647.9 L1226.5,650.7 L1225.5,653.4 L1224.3,656.0 L1222.9,658.6 L1221.4,661.2 L1219.8,663.8 L1218.1,666.4 L1216.3,668.9 L1214.6,671.5 L1212.9,674.0 L1211.3,676.5 L1209.9,678.9 L1208.5,681.5 L1207.1,684.1 L1205.7,686.8 L1204.3,689.5 L1203.0,692.1 L1201.8,694.6 L1200.7,696.9 L1199.7,698.9 L1198.8,700.7 L1198.1,702.0 L1198.9,702.4 L1199.6,701.0 L1200.5,699.3 L1201.5,697.3 L1202.7,695.0 L1204.0,692.6 L1205.3,690.0 L1206.8,687.4 L1208.2,684.7 L1209.7,682.1 L1211.1,679.7 L1212.6,677.3 L1214.2,674.8 L1216.0,672.4 L1217.8,669.9 L1219.6,667.4 L1221.3,664.8 L1223.1,662.2 L1224.7,659.6 L1226.2,656.9 L1227.5,654.2 L1228.7,651.5 L1229.7,648.6 L1230.6,645.7 L1231.5,642.7 L1232.2,639.7 L1232.9,636.8 L1233.5,633.9 L1234.1,631.1 L1234.5,628.4 L1234.9,625.9 L1235.3,623.5 L1235.5,621.2 L1235.6,619.1 L1235.7,617.0 L1235.7,615.0 L1235.7,613.0 L1235.6,611.1 L1235.4,609.1 L1235.3,607.2 L1235.2,605.2 L1235.0,603.1 L1234.9,601.0 L1234.6,599.0 L1234.4,596.9 L1234.1,594.8 L1233.8,592.8 L1233.5,590.7 L1233.1,588.6 L1232.8,586.6 L1232.4,584.5 L1232.1,582.5 L1231.7,580.5 L1231.3,578.5 L1230.9,576.5 L1230.4,574.5 L1230.0,572.5 L1229.5,570.5 L1229.0,568.4 L1228.5,566.2 L1227.9,563.9 L1227.3,561.6 L1226.6,559.1 L1225.8,556.7 L1225.0,554.2 L1224.2,551.7 L1223.5,549.2 L1222.7,546.6 L1222.1,544.0 L1221.5,541.3 L1221.0,538.6 L1220.6,535.7 L1220.2,532.8 L1219.9,529.8 L1219.6,526.8 L1219.3,523.8 L1219.2,520.6 L1219.1,517.5 L1219.1,514.3 L1219.2,511.0 L1219.4,507.7 L1219.8,504.4 L1220.2,501.0 L1220.7,497.6 L1221.3,494.2 L1222.0,490.7 L1222.7,487.0 L1223.6,483.3 L1224.6,479.5 L1225.6,475.5 L1226.8,471.4 L1228.0,467.0 L1229.4,462.5 L1230.8,457.8 L1232.3,453.0 L1233.9,448.1 L1235.6,443.2 L1237.4,438.2 L1239.3,433.3 L1241.2,428.4 L1243.2,423.7 L1245.4,418.9 L1247.8,414.0 L1250.3,409.0 L1253.0,404.0 L1255.8,399.0 L1258.5,394.1 L1261.2,389.4 L1265.3,385.7 L1269.0,382.2 L1271.2,378.2 L1273.1,374.7 L1274.8,371.6 L1276.4,368.8 L1277.8,366.2 L1279.1,363.8 L1280.4,361.4 L1281.6,359.1 L1282.9,356.7 L1284.2,354.2 L1285.6,351.4 L1287.2,348.5 L1288.9,345.2 L1290.6,341.8 L1292.4,338.3 L1294.1,334.9 L1295.8,331.6 L1297.4,328.6 L1298.8,325.8 L1299.9,323.6 L1300.8,321.8 Z" fill="#d9bfd3"/>
<path d="M0,-80 C11,-80 23,-66 26.5,-46 C29,-28 24,-8 10,-2 L-10,-2 C-24,-8 -29,-28 -26.5,-46 C-23,-66 -11,-80 0,-80 Z" fill="#d9bfd3" transform="translate(1291.8,315.7) rotate(21.5) scale(1.0)"/>
<path d="M1279.3,310.7 L1278.5,312.5 L1277.4,314.9 L1276.2,317.7 L1274.8,320.8 L1273.4,324.2 L1271.8,327.7 L1270.3,331.3 L1268.7,334.7 L1267.2,338.0 L1265.9,341.1 L1264.6,343.8 L1263.5,346.4 L1262.4,348.8 L1261.3,351.2 L1260.2,353.5 L1259.0,356.0 L1257.8,358.7 L1256.4,361.6 L1254.9,364.7 L1253.3,368.3 L1251.4,372.2 L1250.6,377.2 L1249.7,382.6 L1247.2,387.4 L1244.6,392.4 L1241.9,397.5 L1239.3,402.7 L1236.8,407.9 L1234.4,413.0 L1232.3,418.0 L1230.3,423.0 L1228.5,428.0 L1226.7,433.1 L1225.0,438.2 L1223.4,443.3 L1221.9,448.4 L1220.5,453.3 L1219.1,458.1 L1217.9,462.7 L1216.7,467.1 L1215.7,471.4 L1214.7,475.4 L1213.8,479.4 L1213.0,483.2 L1212.3,487.0 L1211.7,490.6 L1211.1,494.2 L1210.7,497.8 L1210.3,501.3 L1210.1,504.8 L1209.9,508.3 L1209.9,511.7 L1210.0,515.1 L1210.1,518.4 L1210.4,521.7 L1210.7,524.9 L1211.1,528.0 L1211.5,531.0 L1212.0,534.0 L1212.5,536.9 L1213.1,539.8 L1213.8,542.7 L1214.5,545.4 L1215.4,548.1 L1216.2,550.7 L1217.1,553.2 L1217.9,555.6 L1218.8,558.0 L1219.5,560.3 L1220.2,562.6 L1220.8,564.8 L1221.3,566.9 L1221.9,569.0 L1222.4,571.0 L1222.9,573.0 L1223.4,574.9 L1223.8,576.9 L1224.2,578.8 L1224.7,580.8 L1225.1,582.8 L1225.5,584.8 L1225.9,586.8 L1226.3,588.8 L1226.6,590.9 L1227.0,592.9 L1227.3,594.9 L1227.6,596.9 L1227.9,598.9 L1228.1,600.9 L1228.3,602.9 L1228.5,604.9 L1228.7,606.9 L1228.8,608.8 L1229.0,610.7 L1229.0,612.6 L1229.1,614.5 L1229.1,616.5 L1229.0,618.5 L1228.8,620.7 L1228.6,623.0 L1228.2,625.5 L1227.8,628.1 L1227.4,630.9 L1226.9,633.7 L1226.3,636.6 L1225.6,639.6 L1224.8,642.5 L1224.0,645.4 L1223.0,648.2 L1222.0,650.9 L1220.8,653.5 L1219.4,656.1 L1217.9,658.7 L1216.3,661.3 L1214.6,663.9 L1212.8,666.4 L1211.1,669.0 L1209.4,671.5 L1207.8,674.0 L1206.4,676.4 L1205.0,679.0 L1203.6,681.6 L1202.2,684.3 L1200.8,687.0 L1199.5,689.6 L1198.3,692.1 L1197.2,694.4 L1196.2,696.4 L1195.3,698.2 L1194.6,699.5 L1195.4,699.9 L1196.1,698.5 L1197.0,696.8 L1198.0,694.8 L1199.2,692.5 L1200.5,690.1 L1201.8,687.5 L1203.3,684.9 L1204.7,682.2 L1206.2,679.6 L1207.6,677.2 L1209.1,674.8 L1210.7,672.3 L1212.5,669.9 L1214.3,667.4 L1216.1,664.9 L1217.8,662.3 L1219.6,659.7 L1221.2,657.1 L1222.7,654.4 L1224.0,651.7 L1225.2,649.0 L1226.2,646.1 L1227.1,643.2 L1228.0,640.2 L1228.7,637.2 L1229.4,634.3 L1230.0,631.4 L1230.6,628.6 L1231.0,625.9 L1231.4,623.4 L1231.8,621.0 L1232.0,618.7 L1232.1,616.6 L1232.2,614.5 L1232.2,612.5 L1232.2,610.5 L1232.1,608.6 L1231.9,606.6 L1231.8,604.7 L1231.7,602.7 L1231.5,600.6 L1231.4,598.5 L1231.1,596.5 L1230.9,594.4 L1230.6,592.3 L1230.3,590.3 L1230.0,588.2 L1229.6,586.1 L1229.3,584.1 L1228.9,582.0 L1228.6,580.0 L1228.2,578.0 L1227.8,576.0 L1227.4,574.0 L1226.9,572.0 L1226.5,570.0 L1226.0,568.0 L1225.5,565.9 L1225.0,563.7 L1224.4,561.4 L1223.8,559.1 L1223.1,556.6 L1222.3,554.2 L1221.5,551.7 L1220.7,549.2 L1220.0,546.7 L1219.2,544.1 L1218.6,541.5 L1218.0,538.8 L1217.5,536.1 L1217.1,533.2 L1216.7,530.3 L1216.4,527.3 L1216.1,524.3 L1215.8,521.3 L1215.7,518.1 L1215.6,515.0 L1215.6,511.8 L1215.7,508.5 L1215.9,505.2 L1216.3,501.9 L1216.7,498.5 L1217.2,495.1 L1217.8,491.7 L1218.5,488.2 L1219.2,484.5 L1220.1,480.8 L1221.1,477.0 L1222.1,473.0 L1223.3,468.9 L1224.5,464.5 L1225.9,460.0 L1227.3,455.3 L1228.8,450.5 L1230.4,445.6 L1232.1,440.7 L1233.9,435.7 L1235.8,430.8 L1237.7,425.9 L1239.7,421.2 L1241.9,416.4 L1244.3,411.5 L1246.8,406.5 L1249.5,401.5 L1252.3,396.5 L1255.0,391.6 L1257.7,386.9 L1261.8,383.2 L1265.5,379.7 L1267.7,375.7 L1269.6,372.2 L1271.3,369.1 L1272.9,366.3 L1274.3,363.7 L1275.6,361.3 L1276.9,358.9 L1278.1,356.6 L1279.4,354.2 L1280.7,351.7 L1282.1,348.9 L1283.7,346.0 L1285.4,342.7 L1287.1,339.3 L1288.9,335.8 L1290.6,332.4 L1292.3,329.1 L1293.9,326.1 L1295.3,323.3 L1296.4,321.1 L1297.3,319.3 Z" fill="#80c1ef"/>
<path d="M1279,321 L1255,364 M1253,384 Q1242,403 1233,426" fill="none" stroke="#a9d3f6" stroke-width="2.6" stroke-linecap="round"/>
<g transform="translate(1288.3,313.2) rotate(21.5) scale(1.0)">
<path d="M0,-80 C11,-80 23,-66 26.5,-46 C29,-28 24,-8 10,-2 L-10,-2 C-24,-8 -29,-28 -26.5,-46 C-23,-66 -11,-80 0,-80 Z" fill="#80c1ef"/>
<path d="M-5,-77 C-14,-74 -21,-63 -23.5,-49" fill="none" stroke="#d2ebfc" stroke-width="1.7" stroke-linecap="round"/>
<ellipse cx="-24" cy="-36" rx="1.9" ry="5.5" fill="#d2ebfc" transform="rotate(-4 -24 -36)"/>
<rect x="-11" y="-4" width="22" height="8" rx="1.2" fill="#1b6dc1"/>
</g>
<path d="M1376.1,388.1 L1374.6,389.4 L1372.6,391.0 L1370.2,393.0 L1367.6,395.3 L1364.7,397.7 L1361.7,400.2 L1358.7,402.7 L1355.7,405.2 L1352.9,407.6 L1350.2,409.9 L1347.8,411.9 L1345.4,413.9 L1342.9,415.9 L1340.5,417.9 L1338.0,419.9 L1335.5,421.9 L1333.0,424.0 L1330.5,426.2 L1328.0,428.5 L1325.4,431.0 L1323.5,434.1 L1321.6,437.4 L1319.7,440.7 L1317.1,443.4 L1314.6,446.1 L1312.1,448.9 L1309.6,451.7 L1307.1,454.4 L1304.7,457.1 L1302.4,459.8 L1300.2,462.4 L1298.0,465.0 L1295.8,467.6 L1293.7,470.2 L1291.6,472.8 L1289.6,475.4 L1287.6,478.0 L1285.6,480.6 L1283.6,483.2 L1281.6,485.8 L1279.7,488.4 L1277.8,491.0 L1275.8,493.5 L1273.9,496.1 L1272.1,498.7 L1270.2,501.3 L1268.4,503.9 L1266.6,506.6 L1264.9,509.2 L1263.3,511.8 L1261.6,514.4 L1260.1,517.0 L1258.6,519.6 L1257.1,522.2 L1255.7,524.8 L1254.3,527.4 L1252.9,530.0 L1251.6,532.6 L1250.3,535.2 L1249.1,537.8 L1247.8,540.4 L1246.6,542.9 L1245.4,545.5 L1244.2,548.1 L1243.1,550.7 L1242.0,553.3 L1241.0,555.9 L1240.0,558.6 L1239.1,561.2 L1238.3,563.8 L1237.6,566.4 L1236.9,569.0 L1236.3,571.6 L1235.7,574.3 L1235.2,576.9 L1234.8,579.5 L1234.4,582.0 L1234.1,584.6 L1233.8,587.2 L1233.6,589.8 L1233.4,592.4 L1233.4,595.1 L1233.4,597.7 L1233.5,600.2 L1233.6,602.8 L1233.7,605.4 L1233.8,607.9 L1233.9,610.4 L1234.0,612.9 L1234.0,615.4 L1233.9,618.0 L1233.8,620.5 L1233.7,623.1 L1233.6,625.6 L1233.4,628.1 L1233.2,630.7 L1233.0,633.2 L1232.8,635.8 L1232.6,638.3 L1232.3,640.9 L1232.1,643.4 L1231.7,645.9 L1231.3,648.5 L1230.9,651.0 L1230.5,653.6 L1230.1,656.1 L1229.7,658.7 L1229.3,661.3 L1229.0,663.8 L1228.7,666.4 L1228.5,669.1 L1228.4,672.0 L1228.3,674.9 L1228.2,677.9 L1228.2,680.8 L1228.2,683.6 L1228.1,686.2 L1228.1,688.5 L1228.1,690.5 L1228.1,692.0 L1228.9,692.0 L1229.0,690.5 L1229.0,688.5 L1229.1,686.2 L1229.2,683.6 L1229.3,680.9 L1229.4,677.9 L1229.6,675.0 L1229.8,672.0 L1230.0,669.2 L1230.3,666.6 L1230.6,664.1 L1231.0,661.5 L1231.4,659.0 L1231.9,656.5 L1232.4,653.9 L1232.9,651.4 L1233.4,648.8 L1233.9,646.3 L1234.3,643.7 L1234.7,641.1 L1235.0,638.6 L1235.3,636.0 L1235.6,633.5 L1235.8,630.9 L1236.1,628.4 L1236.3,625.8 L1236.5,623.2 L1236.7,620.7 L1236.9,618.1 L1237.0,615.6 L1237.1,613.0 L1237.2,610.4 L1237.1,607.8 L1237.1,605.2 L1237.0,602.7 L1237.0,600.2 L1237.0,597.6 L1237.1,595.1 L1237.2,592.7 L1237.4,590.2 L1237.7,587.7 L1238.1,585.2 L1238.5,582.7 L1238.9,580.1 L1239.4,577.6 L1239.9,575.1 L1240.5,572.7 L1241.2,570.2 L1241.9,567.7 L1242.7,565.2 L1243.6,562.7 L1244.5,560.2 L1245.5,557.8 L1246.6,555.3 L1247.7,552.8 L1248.9,550.3 L1250.1,547.8 L1251.4,545.3 L1252.6,542.7 L1253.9,540.2 L1255.2,537.7 L1256.6,535.2 L1258.0,532.7 L1259.4,530.2 L1260.8,527.7 L1262.3,525.2 L1263.8,522.7 L1265.3,520.2 L1266.9,517.7 L1268.5,515.2 L1270.2,512.7 L1272.0,510.2 L1273.8,507.8 L1275.6,505.3 L1277.5,502.8 L1279.4,500.3 L1281.4,497.8 L1283.4,495.2 L1285.4,492.7 L1287.4,490.2 L1289.4,487.7 L1291.4,485.2 L1293.4,482.7 L1295.5,480.2 L1297.6,477.7 L1299.7,475.2 L1301.9,472.7 L1304.0,470.2 L1306.3,467.7 L1308.6,465.2 L1310.9,462.7 L1313.4,460.1 L1315.8,457.4 L1318.4,454.8 L1320.9,452.2 L1323.5,449.6 L1326.1,447.0 L1329.3,445.2 L1332.5,443.6 L1335.6,442.0 L1338.0,440.0 L1340.4,438.0 L1342.9,436.2 L1345.3,434.3 L1347.8,432.5 L1350.3,430.7 L1352.8,428.9 L1355.4,427.0 L1358.1,425.1 L1360.8,423.1 L1363.5,421.1 L1366.5,418.8 L1369.6,416.5 L1372.8,414.2 L1375.9,411.8 L1378.9,409.6 L1381.7,407.6 L1384.2,405.7 L1386.3,404.2 L1387.9,402.9 Z" fill="#d9bfd3"/>
<path d="M0,-80 C11,-80 23,-66 26.5,-46 C29,-28 24,-8 10,-2 L-10,-2 C-24,-8 -29,-28 -26.5,-46 C-23,-66 -11,-80 0,-80 Z" fill="#d9bfd3" transform="translate(1383.2,393.9) rotate(46) scale(0.95)"/>
<path d="M1372.6,385.6 L1371.1,386.9 L1369.1,388.5 L1366.7,390.5 L1364.1,392.8 L1361.2,395.2 L1358.2,397.7 L1355.2,400.2 L1352.2,402.7 L1349.4,405.1 L1346.7,407.4 L1344.3,409.4 L1341.9,411.4 L1339.4,413.4 L1337.0,415.4 L1334.5,417.4 L1332.0,419.4 L1329.5,421.5 L1327.0,423.7 L1324.5,426.0 L1321.9,428.5 L1320.0,431.6 L1318.1,434.9 L1316.2,438.2 L1313.6,440.9 L1311.1,443.6 L1308.6,446.4 L1306.1,449.2 L1303.6,451.9 L1301.2,454.6 L1298.9,457.3 L1296.7,459.9 L1294.5,462.5 L1292.3,465.1 L1290.2,467.7 L1288.1,470.3 L1286.1,472.9 L1284.1,475.5 L1282.1,478.1 L1280.1,480.7 L1278.1,483.3 L1276.2,485.9 L1274.3,488.5 L1272.3,491.0 L1270.4,493.6 L1268.6,496.2 L1266.7,498.8 L1264.9,501.4 L1263.1,504.1 L1261.4,506.7 L1259.8,509.3 L1258.1,511.9 L1256.6,514.5 L1255.1,517.1 L1253.6,519.7 L1252.2,522.3 L1250.8,524.9 L1249.4,527.5 L1248.1,530.1 L1246.8,532.7 L1245.6,535.3 L1244.3,537.9 L1243.1,540.4 L1241.9,543.0 L1240.7,545.6 L1239.6,548.2 L1238.5,550.8 L1237.5,553.4 L1236.5,556.1 L1235.6,558.7 L1234.8,561.3 L1234.1,563.9 L1233.4,566.5 L1232.8,569.1 L1232.2,571.8 L1231.7,574.4 L1231.3,577.0 L1230.9,579.5 L1230.6,582.1 L1230.3,584.7 L1230.1,587.3 L1229.9,589.9 L1229.9,592.6 L1229.9,595.2 L1230.0,597.7 L1230.1,600.3 L1230.2,602.9 L1230.3,605.4 L1230.4,607.9 L1230.5,610.4 L1230.5,612.9 L1230.4,615.5 L1230.3,618.0 L1230.2,620.6 L1230.1,623.1 L1229.9,625.6 L1229.7,628.2 L1229.5,630.7 L1229.3,633.3 L1229.1,635.8 L1228.8,638.4 L1228.6,640.9 L1228.2,643.4 L1227.8,646.0 L1227.4,648.5 L1227.0,651.1 L1226.6,653.6 L1226.2,656.2 L1225.8,658.8 L1225.5,661.3 L1225.2,663.9 L1225.0,666.6 L1224.9,669.5 L1224.8,672.4 L1224.7,675.4 L1224.7,678.3 L1224.7,681.1 L1224.6,683.7 L1224.6,686.0 L1224.6,688.0 L1224.6,689.5 L1225.4,689.5 L1225.5,688.0 L1225.5,686.0 L1225.6,683.7 L1225.7,681.1 L1225.8,678.4 L1225.9,675.4 L1226.1,672.5 L1226.3,669.5 L1226.5,666.7 L1226.8,664.1 L1227.1,661.6 L1227.5,659.0 L1227.9,656.5 L1228.4,654.0 L1228.9,651.4 L1229.4,648.9 L1229.9,646.3 L1230.4,643.8 L1230.8,641.2 L1231.2,638.6 L1231.5,636.1 L1231.8,633.5 L1232.1,631.0 L1232.3,628.4 L1232.6,625.9 L1232.8,623.3 L1233.0,620.7 L1233.2,618.2 L1233.4,615.6 L1233.5,613.1 L1233.6,610.5 L1233.7,607.9 L1233.6,605.3 L1233.6,602.7 L1233.5,600.2 L1233.5,597.7 L1233.5,595.1 L1233.6,592.6 L1233.7,590.2 L1233.9,587.7 L1234.2,585.2 L1234.6,582.7 L1235.0,580.2 L1235.4,577.6 L1235.9,575.1 L1236.4,572.6 L1237.0,570.2 L1237.7,567.7 L1238.4,565.2 L1239.2,562.7 L1240.1,560.2 L1241.0,557.7 L1242.0,555.3 L1243.1,552.8 L1244.2,550.3 L1245.4,547.8 L1246.6,545.3 L1247.9,542.8 L1249.1,540.2 L1250.4,537.7 L1251.7,535.2 L1253.1,532.7 L1254.5,530.2 L1255.9,527.7 L1257.3,525.2 L1258.8,522.7 L1260.3,520.2 L1261.8,517.7 L1263.4,515.2 L1265.0,512.7 L1266.7,510.2 L1268.5,507.7 L1270.3,505.3 L1272.1,502.8 L1274.0,500.3 L1275.9,497.8 L1277.9,495.3 L1279.9,492.7 L1281.9,490.2 L1283.9,487.7 L1285.9,485.2 L1287.9,482.7 L1289.9,480.2 L1292.0,477.7 L1294.1,475.2 L1296.2,472.7 L1298.4,470.2 L1300.5,467.7 L1302.8,465.2 L1305.1,462.7 L1307.4,460.2 L1309.9,457.6 L1312.3,454.9 L1314.9,452.3 L1317.4,449.7 L1320.0,447.1 L1322.6,444.5 L1325.8,442.7 L1329.0,441.1 L1332.1,439.5 L1334.5,437.5 L1336.9,435.5 L1339.4,433.7 L1341.8,431.8 L1344.3,430.0 L1346.8,428.2 L1349.3,426.4 L1351.9,424.5 L1354.6,422.6 L1357.3,420.6 L1360.0,418.6 L1363.0,416.3 L1366.1,414.0 L1369.3,411.7 L1372.4,409.3 L1375.4,407.1 L1378.2,405.1 L1380.7,403.2 L1382.8,401.7 L1384.4,400.4 Z" fill="#80c1ef"/>
<path d="M1366,392 L1334,421 M1316,441 Q1300,458 1285,477" fill="none" stroke="#a9d3f6" stroke-width="2.6" stroke-linecap="round"/>
<g transform="translate(1379.7,391.4) rotate(46) scale(0.95)">
<path d="M0,-80 C11,-80 23,-66 26.5,-46 C29,-28 24,-8 10,-2 L-10,-2 C-24,-8 -29,-28 -26.5,-46 C-23,-66 -11,-80 0,-80 Z" fill="#80c1ef"/>
<path d="M-5,-77 C-14,-74 -21,-63 -23.5,-49" fill="none" stroke="#d2ebfc" stroke-width="1.7" stroke-linecap="round"/>
<ellipse cx="-24" cy="-36" rx="1.9" ry="5.5" fill="#d2ebfc" transform="rotate(-4 -24 -36)"/>
<rect x="-11" y="-4" width="22" height="8" rx="1.2" fill="#1b6dc1"/>
</g>
</g>

<!-- EGG / ICSI -->
<g id="egg">
<defs><clipPath id="cellclip"><path d="M1924.6,495 C1924.6,499.8 1928.5,505.2 1931,510 C1933.5,514.8 1936,517.2 1939.7,524 C1943.4,530.8 1946.4,541.2 1953,550.5 C1959.6,559.8 1970.6,572.5 1979.4,579.6 C1988.2,586.7 1994.4,589.6 2005.8,592.9 C2017.2,596.2 2034.8,598.6 2048,599.5 C2061.2,600.4 2074.4,600 2085,598 C2095.6,596 2103.7,593.3 2111.7,587.6 C2119.7,581.9 2127.6,573.1 2132.9,563.8 C2138.2,554.5 2141.3,543 2143.4,532 C2145.5,521 2145.4,508.6 2145.6,497.6 C2145.8,486.6 2146.9,476.8 2144.8,465.8 C2142.7,454.8 2138.4,441.1 2132.9,431.4 C2127.4,421.7 2119.7,413.8 2111.7,407.6 C2103.7,401.4 2093.8,397 2085,394.4 C2076.2,391.8 2065.8,390.4 2058.8,391.8 C2051.8,393.2 2048.3,401.4 2043,402.5 C2037.7,403.6 2033.2,399.1 2027,398.5 C2020.8,397.9 2013.7,397.2 2005.8,399.2 C1997.9,401.2 1988.2,404.1 1979.4,410.3 C1970.6,416.6 1959.6,427.4 1953,436.7 C1946.4,445.9 1943.4,458.4 1939.7,465.8 C1936,473.2 1933.5,476.1 1931,481 C1928.5,485.9 1924.6,490.2 1924.6,495 Z"/></clipPath></defs>
<!-- holding pipette -->
<path d="M1778,411.6 L1866,411.6 A49,49 0 0 1 1915,460.6 L1915,527 A49,49 0 0 1 1866,576 L1778,576 Z" fill="#b4b4b4"/>
<path d="M1778,459.4 L1840,459.4 C1852,459.4 1860,464 1868,472.2 L1914,472.2 L1914,517 L1868,517 C1860,525 1852,528.8 1840,528.8 L1778,528.8 Z" fill="#878787"/>
<!-- outer ring with bump -->
<path d="M1917,458 A131,131 0 1 1 1917,530 C1913,522 1910,518 1905,514 C1896,507 1893,502 1893,495 C1893,487 1897,482 1904,476 C1910,471 1913,466 1917,458 Z" fill="#ae3a92"/>
<!-- zona -->
<path d="M1930.2,445 A122.5,122.5 0 1 1 1930.2,543 C1926,530 1922,522 1918,512 C1913,503 1909,498 1908.4,494 C1909,490 1913,484 1917,478 C1922,470 1926,458 1930.2,445 Z" fill="#f7c5eb"/>
<!-- polar body -->
<ellipse cx="2036.3" cy="387.8" rx="16" ry="8.8" fill="#ae3a92" transform="rotate(-4 2036.3 387.8)"/>
<!-- inner cell -->
<path d="M1924.6,495 C1924.6,499.8 1928.5,505.2 1931,510 C1933.5,514.8 1936,517.2 1939.7,524 C1943.4,530.8 1946.4,541.2 1953,550.5 C1959.6,559.8 1970.6,572.5 1979.4,579.6 C1988.2,586.7 1994.4,589.6 2005.8,592.9 C2017.2,596.2 2034.8,598.6 2048,599.5 C2061.2,600.4 2074.4,600 2085,598 C2095.6,596 2103.7,593.3 2111.7,587.6 C2119.7,581.9 2127.6,573.1 2132.9,563.8 C2138.2,554.5 2141.3,543 2143.4,532 C2145.5,521 2145.4,508.6 2145.6,497.6 C2145.8,486.6 2146.9,476.8 2144.8,465.8 C2142.7,454.8 2138.4,441.1 2132.9,431.4 C2127.4,421.7 2119.7,413.8 2111.7,407.6 C2103.7,401.4 2093.8,397 2085,394.4 C2076.2,391.8 2065.8,390.4 2058.8,391.8 C2051.8,393.2 2048.3,401.4 2043,402.5 C2037.7,403.6 2033.2,399.1 2027,398.5 C2020.8,397.9 2013.7,397.2 2005.8,399.2 C1997.9,401.2 1988.2,404.1 1979.4,410.3 C1970.6,416.6 1959.6,427.4 1953,436.7 C1946.4,445.9 1943.4,458.4 1939.7,465.8 C1936,473.2 1933.5,476.1 1931,481 C1928.5,485.9 1924.6,490.2 1924.6,495 Z" fill="#f09ce0"/>
<path d="M2134.5,450 C2130,466 2120,482 2104,492 L2104,497 C2120,506 2130,520 2137,542 L2170,542 L2170,450 Z" fill="#e891d8" clip-path="url(#cellclip)"/>
<path d="M1924.6,495 C1924.6,499.8 1928.5,505.2 1931,510 C1933.5,514.8 1936,517.2 1939.7,524 C1943.4,530.8 1946.4,541.2 1953,550.5 C1959.6,559.8 1970.6,572.5 1979.4,579.6 C1988.2,586.7 1994.4,589.6 2005.8,592.9 C2017.2,596.2 2034.8,598.6 2048,599.5 C2061.2,600.4 2074.4,600 2085,598 C2095.6,596 2103.7,593.3 2111.7,587.6 C2119.7,581.9 2127.6,573.1 2132.9,563.8 C2138.2,554.5 2141.3,543 2143.4,532 C2145.5,521 2145.4,508.6 2145.6,497.6 C2145.8,486.6 2146.9,476.8 2144.8,465.8 C2142.7,454.8 2138.4,441.1 2132.9,431.4 C2127.4,421.7 2119.7,413.8 2111.7,407.6 C2103.7,401.4 2093.8,397 2085,394.4 C2076.2,391.8 2065.8,390.4 2058.8,391.8 C2051.8,393.2 2048.3,401.4 2043,402.5 C2037.7,403.6 2033.2,399.1 2027,398.5 C2020.8,397.9 2013.7,397.2 2005.8,399.2 C1997.9,401.2 1988.2,404.1 1979.4,410.3 C1970.6,416.6 1959.6,427.4 1953,436.7 C1946.4,445.9 1943.4,458.4 1939.7,465.8 C1936,473.2 1933.5,476.1 1931,481 C1928.5,485.9 1924.6,490.2 1924.6,495 Z" fill="none" stroke="#e291d3" stroke-width="11" clip-path="url(#cellclip)"/>
<!-- sperm -->
<ellipse cx="2036" cy="495" rx="5.4" ry="3.4" fill="#2b2b2e"/>
<path d="M2039,495.5 C2046,497 2051,496.5 2058,494.5 C2066,492 2071,492 2076.5,493.2" fill="none" stroke="#2e2a30" stroke-width="1.05"/>
<!-- needle -->
<path d="M2083,487.6 L2318.6,487.6 L2318.6,499.4 L2101,499.4 C2092,497 2084,494 2081,491 C2079.5,489.5 2080.5,487.6 2083,487.6 Z" fill="#b1b1b1"/>
<path d="M2083,489 C2090,489.5 2098,493 2101,499 C2092,497.5 2084,494.5 2082,491.5 C2081.5,490 2082,489 2083,489 Z" fill="#8c8c8c"/>
</g>

<!-- TEXT -->
<g id="labels" font-size="76">
<text transform="translate(301.00,839.7) scale(0.84,1)" x="0" y="0" textLength="363.49" lengthAdjust="spacing" stroke="#3b3637" stroke-width="0.9">Testicular</text>
<text transform="translate(353.00,929.7) scale(0.84,1)" x="0" y="0" textLength="242.75" lengthAdjust="spacing" stroke="#3b3637" stroke-width="0.9">biopsy</text>
<text transform="translate(1149.00,839.7) scale(0.84,1)" x="0" y="0" textLength="243.57" lengthAdjust="spacing" stroke="#3b3637" stroke-width="0.9">Sperm</text>
<text transform="translate(1120.00,929.7) scale(0.84,1)" x="0" y="0" textLength="318.27" lengthAdjust="spacing" stroke="#3b3637" stroke-width="0.9">retrieval</text>
<text transform="translate(1918.95,838.7) scale(0.84,1)" x="0" y="0" textLength="301.18" lengthAdjust="spacing" stroke="#3b3637" stroke-width="0.9">IVF-ICSI</text>
</g>
</svg>
</body></html>
